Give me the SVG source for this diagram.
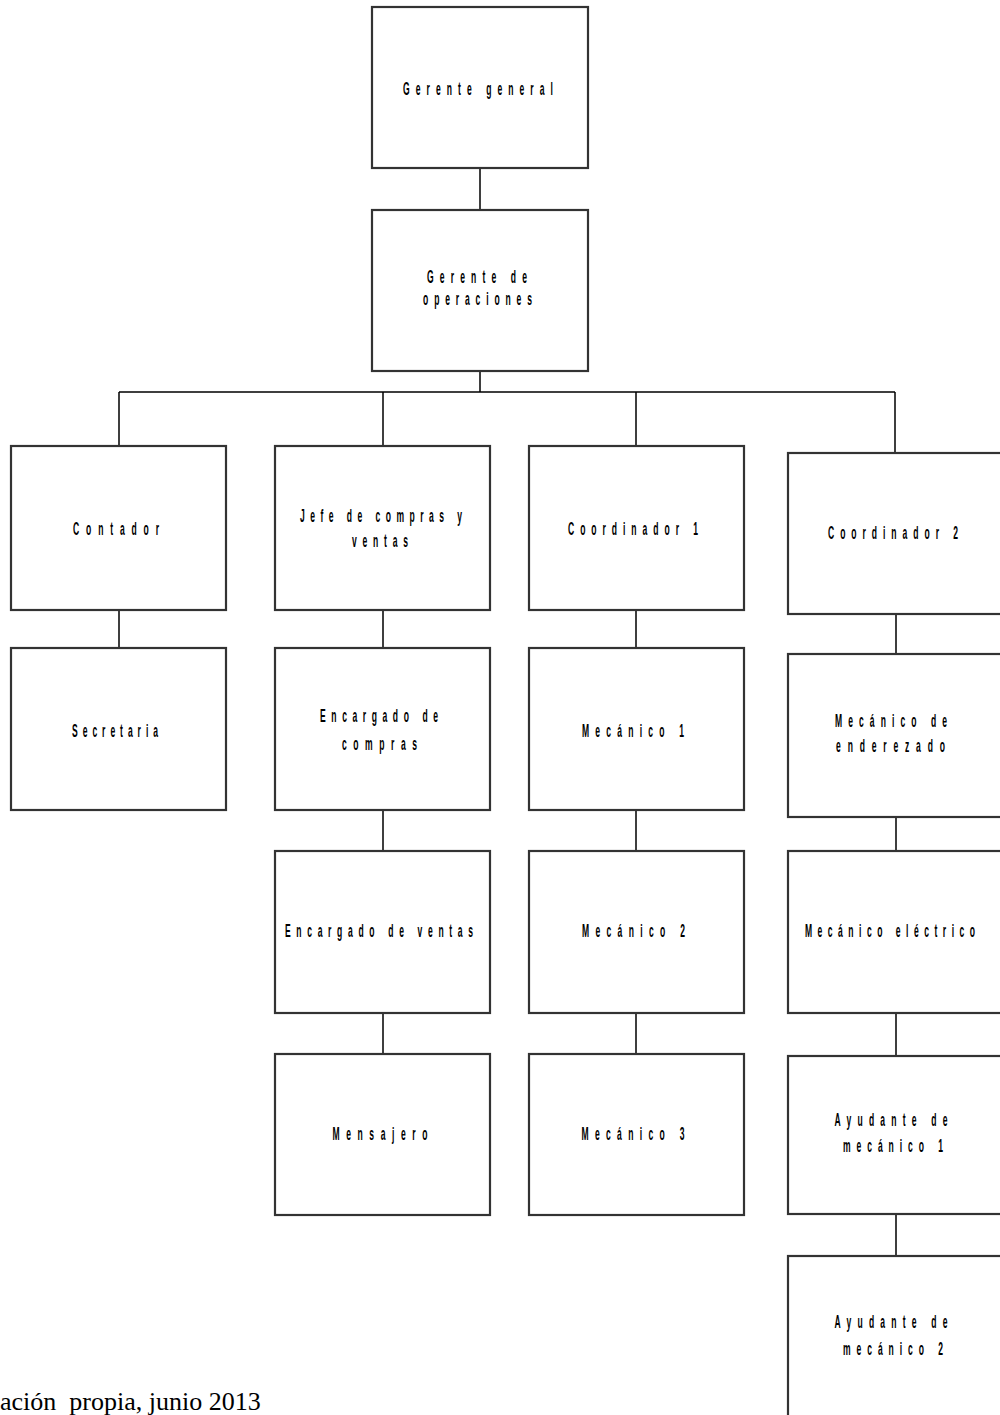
<svg xmlns="http://www.w3.org/2000/svg" width="1000" height="1415" viewBox="0 0 1000 1415">
<style>
.box{fill:#ffffff;stroke:#333333;stroke-width:2.2}
.lbl{font-family:"Liberation Sans",Arial,sans-serif;font-size:19px;font-weight:bold;fill:#000000;text-anchor:middle}
.con{stroke:#000000;stroke-width:1.5;fill:none}
.foot{font-family:"Liberation Serif","Times New Roman",serif;font-size:26px;fill:#000000}
</style>
<rect x="0" y="0" width="1000" height="1415" fill="#ffffff"/>
<g id="connectors">
<path class="con" d="M480 168V210M480 371V392M119 392H895M119 392V446M383 392V446M636 392V446M895 392V453"/>
<path class="con" d="M119 610V648M383 610V648M383 810V851M383 1013V1054M636 610V648M636 810V851M636 1013V1054"/>
<path class="con" d="M896 614V654M896 817V851M896 1013V1056M896 1214V1256"/>
</g>
<g id="gerente-general"><rect class="box" x="372" y="7" width="216" height="161"/>
<text class="lbl" transform="translate(478,95) scale(0.45,1)" textLength="333" lengthAdjust="spacing">Gerente general</text></g>
<g id="gerente-operaciones"><rect class="box" x="372" y="210" width="216" height="161"/>
<text class="lbl" transform="translate(477,283) scale(0.45,1)" textLength="222" lengthAdjust="spacing">Gerente de</text>
<text class="lbl" transform="translate(477.5,305) scale(0.45,1)" textLength="242" lengthAdjust="spacing">operaciones</text></g>
<g id="contador"><rect class="box" x="11" y="446" width="215" height="164"/>
<text class="lbl" transform="translate(116,535) scale(0.45,1)" textLength="191" lengthAdjust="spacing">Contador</text></g>
<g id="jefe-compras-ventas"><rect class="box" x="275" y="446" width="215" height="164"/>
<text class="lbl" transform="translate(381,522) scale(0.45,1)" textLength="360" lengthAdjust="spacing">Jefe de compras y</text>
<text class="lbl" transform="translate(380,547) scale(0.45,1)" textLength="124" lengthAdjust="spacing">ventas</text></g>
<g id="coordinador-1"><rect class="box" x="529" y="446" width="215" height="164"/>
<text class="lbl" transform="translate(633,535) scale(0.45,1)" textLength="289" lengthAdjust="spacing">Coordinador 1</text></g>
<g id="coordinador-2"><rect class="box" x="788" y="453" width="230" height="161"/>
<text class="lbl" transform="translate(893,539) scale(0.45,1)" textLength="289" lengthAdjust="spacing">Coordinador 2</text></g>
<g id="secretaria"><rect class="box" x="11" y="648" width="215" height="162"/>
<text class="lbl" transform="translate(115,737) scale(0.45,1)" textLength="191" lengthAdjust="spacing">Secretaria</text></g>
<g id="encargado-compras"><rect class="box" x="275" y="648" width="215" height="162"/>
<text class="lbl" transform="translate(379,722) scale(0.45,1)" textLength="262" lengthAdjust="spacing">Encargado de</text>
<text class="lbl" transform="translate(379.5,750) scale(0.45,1)" textLength="167" lengthAdjust="spacing">compras</text></g>
<g id="mecanico-1"><rect class="box" x="529" y="648" width="215" height="162"/>
<text class="lbl" transform="translate(633,737) scale(0.45,1)" textLength="227" lengthAdjust="spacing">Mecánico 1</text></g>
<g id="mecanico-enderezado"><rect class="box" x="788" y="654" width="230" height="163"/>
<text class="lbl" transform="translate(891,727) scale(0.45,1)" textLength="249" lengthAdjust="spacing">Mecánico de</text>
<text class="lbl" transform="translate(890.5,752) scale(0.45,1)" textLength="242" lengthAdjust="spacing">enderezado</text></g>
<g id="encargado-ventas"><rect class="box" x="275" y="851" width="215" height="162"/>
<text class="lbl" transform="translate(379,937) scale(0.45,1)" textLength="418" lengthAdjust="spacing">Encargado de ventas</text></g>
<g id="mecanico-2"><rect class="box" x="529" y="851" width="215" height="162"/>
<text class="lbl" transform="translate(633.5,937) scale(0.45,1)" textLength="229" lengthAdjust="spacing">Mecánico 2</text></g>
<g id="mecanico-electrico"><rect class="box" x="788" y="851" width="230" height="162"/>
<text class="lbl" transform="translate(890,937) scale(0.45,1)" textLength="378" lengthAdjust="spacing">Mecánico eléctrico</text></g>
<g id="mensajero"><rect class="box" x="275" y="1054" width="215" height="161"/>
<text class="lbl" transform="translate(380,1140) scale(0.45,1)" textLength="211" lengthAdjust="spacing">Mensajero</text></g>
<g id="mecanico-3"><rect class="box" x="529" y="1054" width="215" height="161"/>
<text class="lbl" transform="translate(633,1140) scale(0.45,1)" textLength="229" lengthAdjust="spacing">Mecánico 3</text></g>
<g id="ayudante-1"><rect class="box" x="788" y="1056" width="230" height="158"/>
<text class="lbl" transform="translate(891,1126) scale(0.45,1)" textLength="251" lengthAdjust="spacing">Ayudante de</text>
<text class="lbl" transform="translate(893,1152) scale(0.45,1)" textLength="222" lengthAdjust="spacing">mecánico 1</text></g>
<g id="ayudante-2"><rect class="box" x="788" y="1256" width="230" height="180"/>
<text class="lbl" transform="translate(891,1328) scale(0.45,1)" textLength="251" lengthAdjust="spacing">Ayudante de</text>
<text class="lbl" transform="translate(893,1355) scale(0.45,1)" textLength="222" lengthAdjust="spacing">mecánico 2</text></g>
<text class="foot" x="0" y="1410" xml:space="preserve">ación  propia, junio 2013</text>
</svg>
